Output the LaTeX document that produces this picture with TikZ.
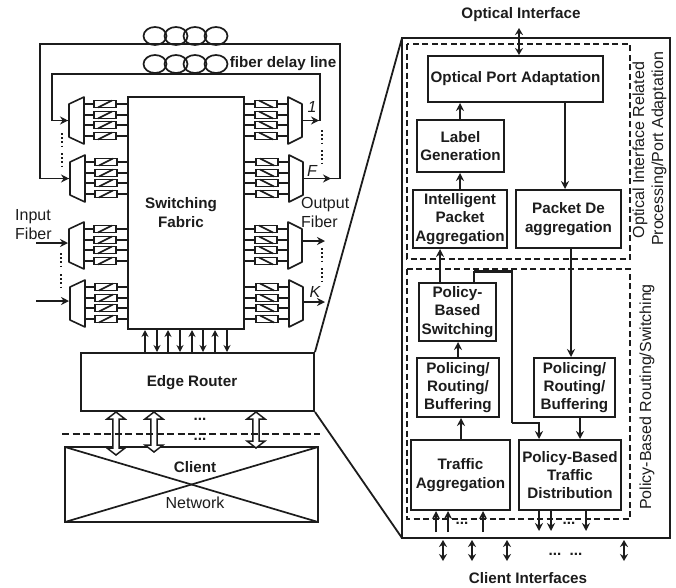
\documentclass[tikz,border=0pt]{standalone}
\usepackage{fontspec}
\setmainfont{Liberation Sans}
\usetikzlibrary{arrows.meta,calc}
\definecolor{ink}{HTML}{1C1C1C}
\tikzset{
  x=1pt,y=-1pt,
  every node/.style={text=ink},
  thin line/.style={draw=ink,line width=1.6pt},
  blockbox/.style={draw=ink,line width=2pt,fill=white,inner sep=0pt,align=center,font=\fontsize{15.2}{18.3}\selectfont\bfseries},
  arr/.style={draw=ink,line width=1.9pt,-{Stealth[length=8pt,width=8pt]}},
  arrb/.style={draw=ink,line width=2pt,{Stealth[length=7pt,width=8pt]}-{Stealth[length=7pt,width=8pt]}},
  dashbox/.style={draw=ink,line width=1.8pt,dash pattern=on 6pt off 3.5pt},
  dotv/.style={draw=ink,line width=2pt,dash pattern=on 2pt off 2.2pt},
  lab/.style={font=\fontsize{15.2}{18.3}\selectfont\bfseries,inner sep=0pt,align=center},
  labr/.style={font=\fontsize{16}{19}\selectfont,inner sep=0pt,align=center},
  coil/.style={draw=ink,line width=1.7pt},
  mux/.style={draw=ink,line width=1.6pt,fill=white,line join=round},
  filt/.style={draw=ink,line width=1.6pt,fill=white},
}
\newcommand{\bx}[6]{%
  \pgfmathsetmacro{\cxx}{(#2+#4)/2}\pgfmathsetmacro{\cyy}{(#3+#5)/2}%
  \pgfmathsetmacro{\wdd}{#4-#2}\pgfmathsetmacro{\htt}{#5-#3}%
  \node[blockbox,minimum width=\wdd pt,minimum height=\htt pt] (#1) at (\cxx,\cyy) {#6};}
\newcommand{\leftgroup}[6]{%
  \foreach \r in {#3,#4,#5,#6}{
    \draw[thin line] (84+#2,\r) -- (128,\r);
    \draw[filt] (94+#2,\r-3.5) rectangle (116+#2,\r+3.5);
    \draw[thin line] (98+#2,\r+3.5) -- (112+#2,\r-3.5);
  }
  \draw[mux] (69+#2,#3) -- (84+#2,#3-7) -- (84+#2,#6+8) -- (69+#2,#6+1) -- cycle;
  \coordinate (#1) at (69+#2,{(#3+#6)/2});}
\newcommand{\rightgroup}[6]{%
  \foreach \r in {#3,#4,#5,#6}{
    \draw[thin line] (244,\r) -- (288+#2,\r);
    \draw[filt] (255+#2,\r-3.5) rectangle (277+#2,\r+3.5);
    \draw[thin line] (259+#2,\r-3.5) -- (273+#2,\r+3.5);
  }
  \draw[mux] (288+#2,#3-7) -- (302+#2,#3) -- (302+#2,#6+1) -- (288+#2,#6+8) -- cycle;
  \coordinate (#1) at (302+#2,{(#3+#6)/2});}
\newcommand{\hollow}[3]{%
  \draw[draw=ink,line width=1.5pt,fill=white,line join=miter]
   (#1,#2) -- (#1+9,#2+7) -- (#1+3.2,#2+7) -- (#1+3.2,#3-7) -- (#1+9,#3-7) -- (#1,#3)
   -- (#1-9,#3-7) -- (#1-3.2,#3-7) -- (#1-3.2,#2+7) -- (#1-9,#2+7) -- cycle;}
\begin{document}
\begin{tikzpicture}
\useasboundingbox (0,0) rectangle (676,587);

% ---- fibre loops and loop-back lines
\coordinate (outA) at (302,120.5);
\coordinate (outB) at (303,178.5);
\coordinate (inA) at (68,120.5);
\coordinate (inB) at (69,178.5);
\coordinate (cornA) at (320,74);
\coordinate (cornB) at (340,44);
\foreach \cx in {155,176,195,216}{
  \draw[coil] (\cx,36) ellipse [x radius=11.5,y radius=9];
  \draw[coil] (\cx,64) ellipse [x radius=11.5,y radius=9];
}
\draw[draw=ink,line width=1.9pt] (outA) -- (cornA |- outA) -- (cornA) -- (52,74) -- (52,120.5) -- (inA);
\draw[draw=ink,line width=1.9pt] (outB) -- (cornB |- outB) -- (cornB) -- (40,44) -- (40,178.5) -- (inB);
\draw[arr] (52,120.5) -- (inA);
\draw[arr] (40,178.5) -- (inB);
\draw[arr] (outA) -- (319,120.5);
\draw[arr] (outB) -- (331,178.5);
\node[lab] (fdl) at (283,64) {fiber delay line};

% ---- switching fabric
\bx{sf}{128}{97}{244}{329}{\phantom{x}}
\node[lab] (swf) at (181,212.5) {Switching\\Fabric};
\leftgroup{la}{0}{104}{115}{125}{136}
\leftgroup{lb}{1}{162}{173}{183}{194}
\leftgroup{lc}{0}{229}{240}{250}{261}
\leftgroup{ld}{1}{287}{298}{308}{319}
\rightgroup{ra}{0}{104}{115}{125}{136}
\rightgroup{rb}{1}{162}{173}{183}{194}
\rightgroup{rc}{0}{229}{240}{250}{261}
\rightgroup{rd}{1}{287}{298}{308}{319}
\draw[arr] (36,243) -- (68,243);
\draw[arr] (36,301) -- (69,301);
\draw[arr] (302,241) -- (325,241);
\draw[arr] (303,302) -- (325,302);
\draw[dotv] (62,133) -- (62,146);
\draw[dotv] (62,153) -- (62,166);
\draw[dotv] (61,253) -- (61,266);
\draw[dotv] (61,274) -- (61,287);
\draw[dotv] (322,130) -- (322,143);
\draw[dotv] (322,150) -- (322,163);
\draw[dotv] (322,248) -- (322,261);
\draw[dotv] (322,268) -- (322,281);
\node[labr,font=\fontsize{16}{19}\selectfont\itshape] (n1) at (312,107) {1};
\node[labr,font=\fontsize{16}{19}\selectfont\itshape] (nF) at (312,171) {F};
\node[labr,font=\fontsize{16}{19}\selectfont\itshape] (nK) at (315,292) {K};
\node[labr,align=left,anchor=west] (inf) at (15,224.5) {Input\\Fiber};
\node[labr,align=left,anchor=west] (ouf) at (301,212.5) {Output\\Fiber};

% ---- edge router and client network
\bx{er}{81}{353}{314}{411}{\phantom{x}}
\node[lab] (ert) at (192,382.5) {Edge Router};
\foreach \x in {145,168,192,215}{\draw[draw=ink,line width=1.8pt,-{Stealth[length=7pt,width=7pt]}] (\x,0 |- er.north) -- (\x,0 |- sf.south);}
\foreach \x in {157,180,203,227}{\draw[draw=ink,line width=1.8pt,-{Stealth[length=7pt,width=7pt]}] (\x,0 |- sf.south) -- (\x,0 |- er.north);}
\draw[draw=ink,line width=1.8pt,fill=white] (65,447) rectangle (318,522);
\coordinate (cnw) at (65,447);\coordinate (cne) at (318,447);\coordinate (csw) at (65,522);\coordinate (cse) at (318,522);
\draw[draw=ink,line width=1.7pt] (cnw) -- (cse);
\draw[draw=ink,line width=1.7pt] (cne) -- (csw);
\hollow{116}{412}{455}
\hollow{154}{412}{452}
\hollow{256}{412}{448}
\draw[draw=ink,line width=1.8pt,dash pattern=on 7pt off 3.5pt] (62,434) -- (320,434);
\node[lab] (dots1) at (200,419) {...};
\node[lab] (dots2) at (200,439) {...};
\node[lab] (cl) at (195,467) {Client};
\node[labr] (nw) at (195,503) {Network};

% ---- zoom lines
\coordinate (zt) at (402,38);
\coordinate (zb) at (402,538);
\draw[draw=ink,line width=1.8pt] (er.north east) -- (zt);
\draw[draw=ink,line width=1.8pt] (er.south east) -- (zb);

% ---- detail box
\draw[draw=ink,line width=1.8pt] (zt) rectangle (670,538);
\draw[dashbox] (407,44) rectangle (630,259);
\draw[dashbox] (407,269) rectangle (630,519);

\bx{opa}{428}{56}{603}{102}{Optical Port  Adaptation}
\bx{lg}{417}{120}{504}{172}{Label\\Generation}
\bx{ipa}{413}{190}{507}{248}{Intelligent\\Packet\\Aggregation}
\bx{pda}{516}{190}{621}{248}{Packet  De\\aggregation}
\bx{pbs}{419}{283}{496}{341}{Policy-\\Based\\Switching}
\bx{prl}{417}{358}{499}{417}{Policing/\\Routing/\\Buffering}
\bx{prr}{534}{358}{615}{417}{Policing/\\Routing/\\Buffering}
\bx{ta}{411}{440}{510}{510}{Traffic\\Aggregation}
\bx{pbt}{519}{440}{621}{510}{Policy-Based\\Traffic\\Distribution}

\draw[arr] (460,0 |- lg.north) -- (460,0 |- opa.south);
\draw[arr] (460,0 |- ipa.north) -- (460,0 |- lg.south);
\draw[arr] (565,0 |- opa.south) -- (565,0 |- pda.north);
\draw[arr] (440,0 |- pbs.north) -- (440,0 |- ipa.south);
\draw[arr] (571,0 |- pda.south) -- (571,0 |- prr.north);
\draw[arr] (458,0 |- prl.north) -- (458,0 |- pbs.south);
\draw[arr] (461,0 |- ta.north) -- (461,0 |- prl.south);
\draw[arr] (580,0 |- prr.south) -- (580,0 |- pbt.north);
\draw[draw=ink,line width=1.9pt] (474,0 |- pbs.north) -- (474,271);
\draw[draw=ink,line width=3pt] (474,271) -- (512,271);
\draw[draw=ink,line width=2.4pt] (512,270) -- (512,423);
\draw[arr] (512,423) -- (539,423) -- (539,0 |- pbt.north);
\foreach \x in {436,448,483}{\draw[draw=ink,line width=2.2pt,-{Stealth[length=8pt,width=8pt]}] (\x,532) -- (\x,0 |- ta.south);}
\foreach \x in {539,551,586}{\draw[draw=ink,line width=2.2pt,-{Stealth[length=8pt,width=8pt]}] (\x,0 |- pbt.south) -- (\x,531);}
\node[lab] (d3) at (462,523) {...};
\node[lab] (d4) at (569,523) {...};

\coordinate (oi) at (519,28);
\draw[arrb] (oi) -- (519,0 |- opa.north);
\node[lab] (oit) at (521,15) {Optical Interface};
\foreach \x in {443,472,507,624}{\draw[arrb] (\x,540) -- (\x,561);}
\node[lab] (d5) at (555,554) {...};
\node[lab] (d6) at (576,554) {...};
\node[lab] (cit) at (528,578) {Client Interfaces};

\node[labr,rotate=90] (r1) at (640,150) {Optical Interface Related};
\node[labr,rotate=90] (r2) at (659,149) {Processing/Port Adaptation};
\node[labr,rotate=90] (r3) at (647,397) {Policy-Based Routing/Switching};
\end{tikzpicture}
\end{document}
